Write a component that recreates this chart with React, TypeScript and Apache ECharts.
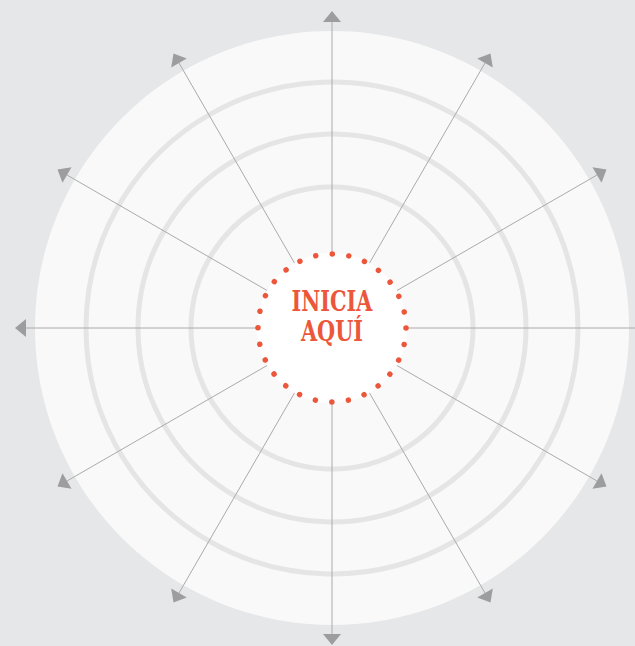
import React, { useEffect, useRef } from "react";
import * as echarts from "echarts";

// ---- data ----
const spokeAngles = [0, 30, 60, 90, 120, 150, 180, 210, 240, 270, 300, 330];
const ringRadii = [141, 194, 246];
const outerDiskRadius = [297];
const hubRadius = [74];
const hubDotCount = 28;
const arrowTipRadius = 317;
const arrowLength = 11;
const arrowHalfWidth = 9;
const centerLabelLines = ["INICIA", "AQUÍ"];

const ACCENT = "#ec573b";

function circleItem(fill: string, stroke: string, lineWidth: number, extra: any = {}) {
  return (params: any, api: any) => {
    const c = api.coord([0, 0]);
    const p = api.coord([api.value(0), 0]);
    const r = Math.hypot(p[0] - c[0], p[1] - c[1]);
    const style: any = { fill, stroke, lineWidth, ...extra };
    if (extra.dots) {
      const gap = (2 * Math.PI * r) / extra.dots;
      delete style.dots;
      style.lineDash = [0.01, gap - 0.01];
      style.lineCap = "round";
    }
    return { type: "circle", shape: { cx: c[0], cy: c[1], r }, style };
  };
}

export default function App() {
  const ref = useRef<HTMLDivElement>(null);
  useEffect(() => {
    const chart = echarts.init(ref.current!, null, { renderer: "svg" });
    chart.setOption({
      animation: false,
      backgroundColor: "#e6e7e8",
      polar: { center: [332, 328], radius: arrowTipRadius },
      radiusAxis: { type: "value", min: 0, max: arrowTipRadius, show: false },
      angleAxis: { type: "value", min: 0, max: 360, startAngle: 0, clockwise: false, show: false },
      series: [
        {
          type: "custom",
          coordinateSystem: "polar",
          silent: true,
          data: outerDiskRadius.map((r) => [r, 0]),
          renderItem: circleItem("#f9f9f9", "none", 0),
          z: 1,
        },
        {
          type: "custom",
          coordinateSystem: "polar",
          silent: true,
          data: ringRadii.map((r) => [r, 0]),
          renderItem: circleItem("none", "#e5e5e5", 5),
          z: 2,
        },
        {
          type: "custom",
          coordinateSystem: "polar",
          silent: true,
          data: spokeAngles.map((a) => [arrowTipRadius, a]),
          renderItem: (params: any, api: any) => {
            const a = api.value(1);
            const tipR = api.value(0);
            const s = api.coord([0, a]);
            const t = api.coord([tipR, a]);
            const b = api.coord([tipR - arrowLength, a]);
            const dx = t[0] - s[0];
            const dy = t[1] - s[1];
            const len = Math.hypot(dx, dy);
            const nx = -dy / len;
            const ny = dx / len;
            return {
              type: "group",
              children: [
                {
                  type: "line",
                  shape: { x1: s[0], y1: s[1], x2: b[0], y2: b[1] },
                  style: { stroke: "#aaaaaa", lineWidth: 1 },
                },
                {
                  type: "polygon",
                  shape: {
                    points: [
                      t,
                      [b[0] + nx * arrowHalfWidth, b[1] + ny * arrowHalfWidth],
                      [b[0] - nx * arrowHalfWidth, b[1] - ny * arrowHalfWidth],
                    ],
                  },
                  style: { fill: "#9d9d9f" },
                },
              ],
            };
          },
          z: 3,
        },
        {
          type: "custom",
          coordinateSystem: "polar",
          silent: true,
          data: hubRadius.map((r) => [r + 1, 0]),
          renderItem: circleItem("#ffffff", "none", 0),
          z: 4,
        },
        {
          type: "custom",
          coordinateSystem: "polar",
          silent: true,
          data: hubRadius.map((r) => [r, 0]),
          renderItem: circleItem("none", ACCENT, 5.5, { dots: hubDotCount }),
          z: 5,
        },
      ],
      graphic: centerLabelLines.map((line, i) => ({
        type: "text",
        x: 332,
        y: 301 + i * 30,
        scaleX: 0.77,
        z: 10,
        style: {
          text: line,
          fill: ACCENT,
          font: "bold 27px 'DejaVu Serif'",
          align: "center",
          verticalAlign: "middle",
        },
      })),
    });
    return () => chart.dispose();
  }, []);
  return (
    <div
      ref={ref}
      style={{ position: "fixed", left: 0, top: 0, width: 635, height: 646 }}
    />
  );
}
